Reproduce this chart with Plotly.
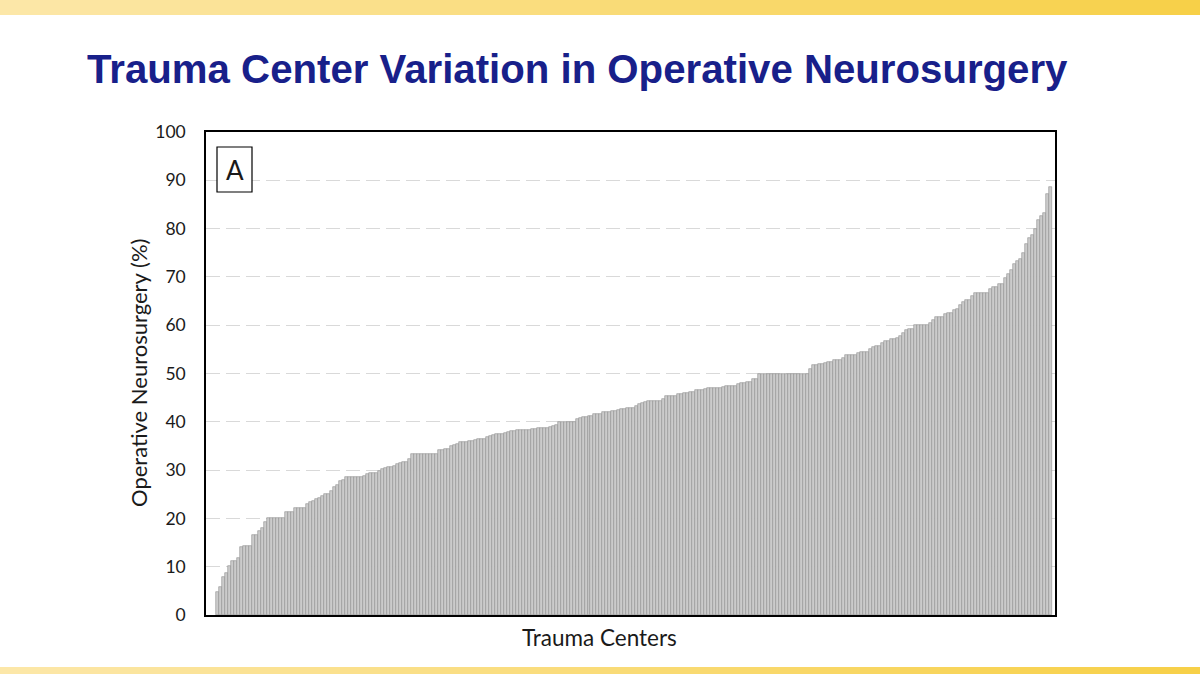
import plotly.graph_objects as go

# ---------------- data ----------------
values = [
    4.7, 5.9, 7.9, 8.6, 10.2, 11.1, 11.1, 11.9, 14.1, 14.3,
    14.3, 14.3, 16.6, 16.6, 17.4, 18.1, 19.2, 20, 20, 20,
    20, 20, 20, 21.3, 21.3, 21.4, 22.1, 22.1, 22.1, 22.2,
    23, 23.3, 23.7, 24, 24.3, 24.7, 25, 25, 25.7, 26.6,
    27, 27.7, 27.9, 28.5, 28.5, 28.5, 28.5, 28.5, 28.5, 28.8,
    29.2, 29.3, 29.5, 29.5, 29.9, 30.2, 30.4, 30.6, 30.7, 30.9,
    31.2, 31.4, 31.6, 31.7, 32.3, 33.3, 33.3, 33.3, 33.3, 33.3,
    33.3, 33.3, 33.3, 33.3, 34.1, 34.1, 34.3, 34.4, 34.9, 35.3,
    35.5, 35.8, 35.8, 35.8, 36, 36, 36.3, 36.5, 36.5, 36.5,
    36.8, 37, 37.3, 37.5, 37.5, 37.5, 37.7, 37.8, 38, 38.1,
    38.2, 38.4, 38.4, 38.4, 38.4, 38.5, 38.6, 38.8, 38.8, 38.8,
    38.8, 38.9, 39.2, 39.3, 40, 40, 40, 40, 40, 40,
    40.6, 40.8, 41, 41, 41.2, 41.3, 41.7, 41.7, 41.7, 42,
    42, 42.1, 42.2, 42.3, 42.5, 42.7, 42.7, 42.9, 42.9, 42.9,
    43.2, 43.6, 43.9, 44.2, 44.4, 44.4, 44.4, 44.4, 44.4, 44.8,
    45.4, 45.4, 45.4, 45.4, 45.7, 45.7, 45.9, 45.9, 46.2, 46.2,
    46.5, 46.5, 46.5, 46.8, 46.9, 47, 47, 47, 47, 47.3,
    47.5, 47.5, 47.5, 47.5, 47.8, 48, 48, 48.3, 48.3, 48.9,
    48.9, 50, 50, 50, 50, 50, 50, 50, 50, 50,
    50, 50, 50, 50, 50, 50, 50, 50, 51, 51.7,
    51.7, 51.9, 52, 52.2, 52.4, 52.4, 52.8, 52.8, 52.8, 53.3,
    53.8, 53.8, 53.8, 53.8, 54.2, 54.5, 54.5, 54.5, 55, 55.4,
    55.7, 55.7, 56.3, 56.8, 56.8, 57.2, 57.2, 57.4, 57.7, 58.4,
    59, 59.3, 59.3, 60, 60, 60, 60, 60, 60.5, 61,
    61.6, 61.6, 61.6, 62.3, 62.6, 62.6, 63.1, 63.4, 64.1, 64.8,
    65.3, 65.3, 66, 66.7, 66.7, 66.7, 66.7, 66.7, 67.4, 67.9,
    67.9, 68.5, 68.5, 69.7, 70.6, 71.5, 72.6, 73.3, 73.8, 75,
    76.9, 78.1, 78.6, 80, 81.7, 82.6, 83.2, 87.2, 88.6,
]
centers = list(range(len(values)))
y_ticks = [0, 10, 20, 30, 40, 50, 60, 70, 80, 90, 100]

title_text = "Trauma Center Variation in Operative Neurosurgery"
y_title = "Operative Neurosurgery (%)"
x_title = "Trauma Centers"
panel_label = "A"

# ---------------- figure ----------------
W, H = 1200, 674
ML, MR, MT, MB = 206, 145, 132, 59
PW, PH = W - ML - MR, H - MT - MB


def px(x):
    return (x - ML) / PW


def py(y):
    return (H - MB - y) / PH


fig = go.Figure(
    go.Bar(
        x=centers,
        y=values,
        marker=dict(color="#cbcbcb", line=dict(color="#8f8f8f", width=0.6)),
        hoverinfo="y",
    )
)

shapes = []


def lerp(c1, c2, t):
    return "rgb(%d,%d,%d)" % tuple(round(a + (b - a) * t) for a, b in zip(c1, c2))


# gradient bands (top and bottom)
n = 60
cL, cR = (252, 231, 168), (247, 208, 72)
for k in range(n):
    t = k / (n - 1)
    col = lerp(cL, cR, t)
    x0 = k / n * W
    x1 = (k + 1) / n * W + 1
    shapes.append(dict(type="rect", xref="paper", yref="paper", x0=px(x0), x1=px(x1),
                       y0=py(15), y1=py(0), fillcolor=col, line=dict(width=0), layer="below"))
    shapes.append(dict(type="rect", xref="paper", yref="paper", x0=px(x0), x1=px(x1),
                       y0=py(H), y1=py(667), fillcolor=col, line=dict(width=0), layer="below"))

# panel label box
shapes.append(dict(type="rect", xref="paper", yref="paper", x0=px(217), x1=px(252),
                   y0=py(192), y1=py(147), line=dict(color="black", width=1.2),
                   fillcolor="white"))

fig.update_layout(
    width=W,
    height=H,
    margin=dict(l=ML, r=MR, t=MT, b=MB),
    paper_bgcolor="white",
    plot_bgcolor="white",
    bargap=0,
    showlegend=False,
    shapes=shapes,
    font=dict(family="Lato, Liberation Sans, sans-serif", color="#1a1a1a"),
    xaxis=dict(
        range=[-3.8, 279.5],
        showticklabels=False,
        showgrid=False,
        zeroline=False,
        showline=True,
        linecolor="black",
        linewidth=1.5,
        mirror=True,
        ticks="",
    ),
    yaxis=dict(
        range=[0, 100],
        tickvals=y_ticks,
        ticktext=[str(v) for v in y_ticks],
        tickfont=dict(size=17.5, family="Lato, Liberation Sans, sans-serif", color="#1a1a1a"),
        ticklabelstandoff=15,
        showgrid=True,
        gridcolor="#d9d9d9",
        gridwidth=1,
        griddash="14px,6px",
        zeroline=False,
        showline=True,
        linecolor="black",
        linewidth=1.5,
        mirror=True,
        ticks="",
    ),
    annotations=[
        dict(text="<b>" + title_text + "</b>", xref="paper", yref="paper",
             x=px(85), y=py(69), xanchor="left", yanchor="middle", showarrow=False,
             font=dict(family="Liberation Sans, Arial, sans-serif", size=40.2, color="#18208a")),
        dict(text=y_title, xref="paper", yref="paper", x=px(138), y=py(373),
             xanchor="center", yanchor="middle", textangle=-90, showarrow=False,
             font=dict(size=22, color="#1a1a1a")),
        dict(text=x_title, xref="paper", yref="paper", x=px(599), y=py(637),
             xanchor="center", yanchor="middle", showarrow=False,
             font=dict(size=22.5, color="#1a1a1a")),
        dict(text=panel_label, xref="paper", yref="paper", x=px(234.5), y=py(170),
             xanchor="center", yanchor="middle", showarrow=False,
             font=dict(size=26, color="#1a1a1a")),
    ],
)

fig.write_html(
    "out.html",
    config={"displayModeBar": False},
    post_script="document.body.style.margin='0';document.body.style.overflow='hidden';",
)
